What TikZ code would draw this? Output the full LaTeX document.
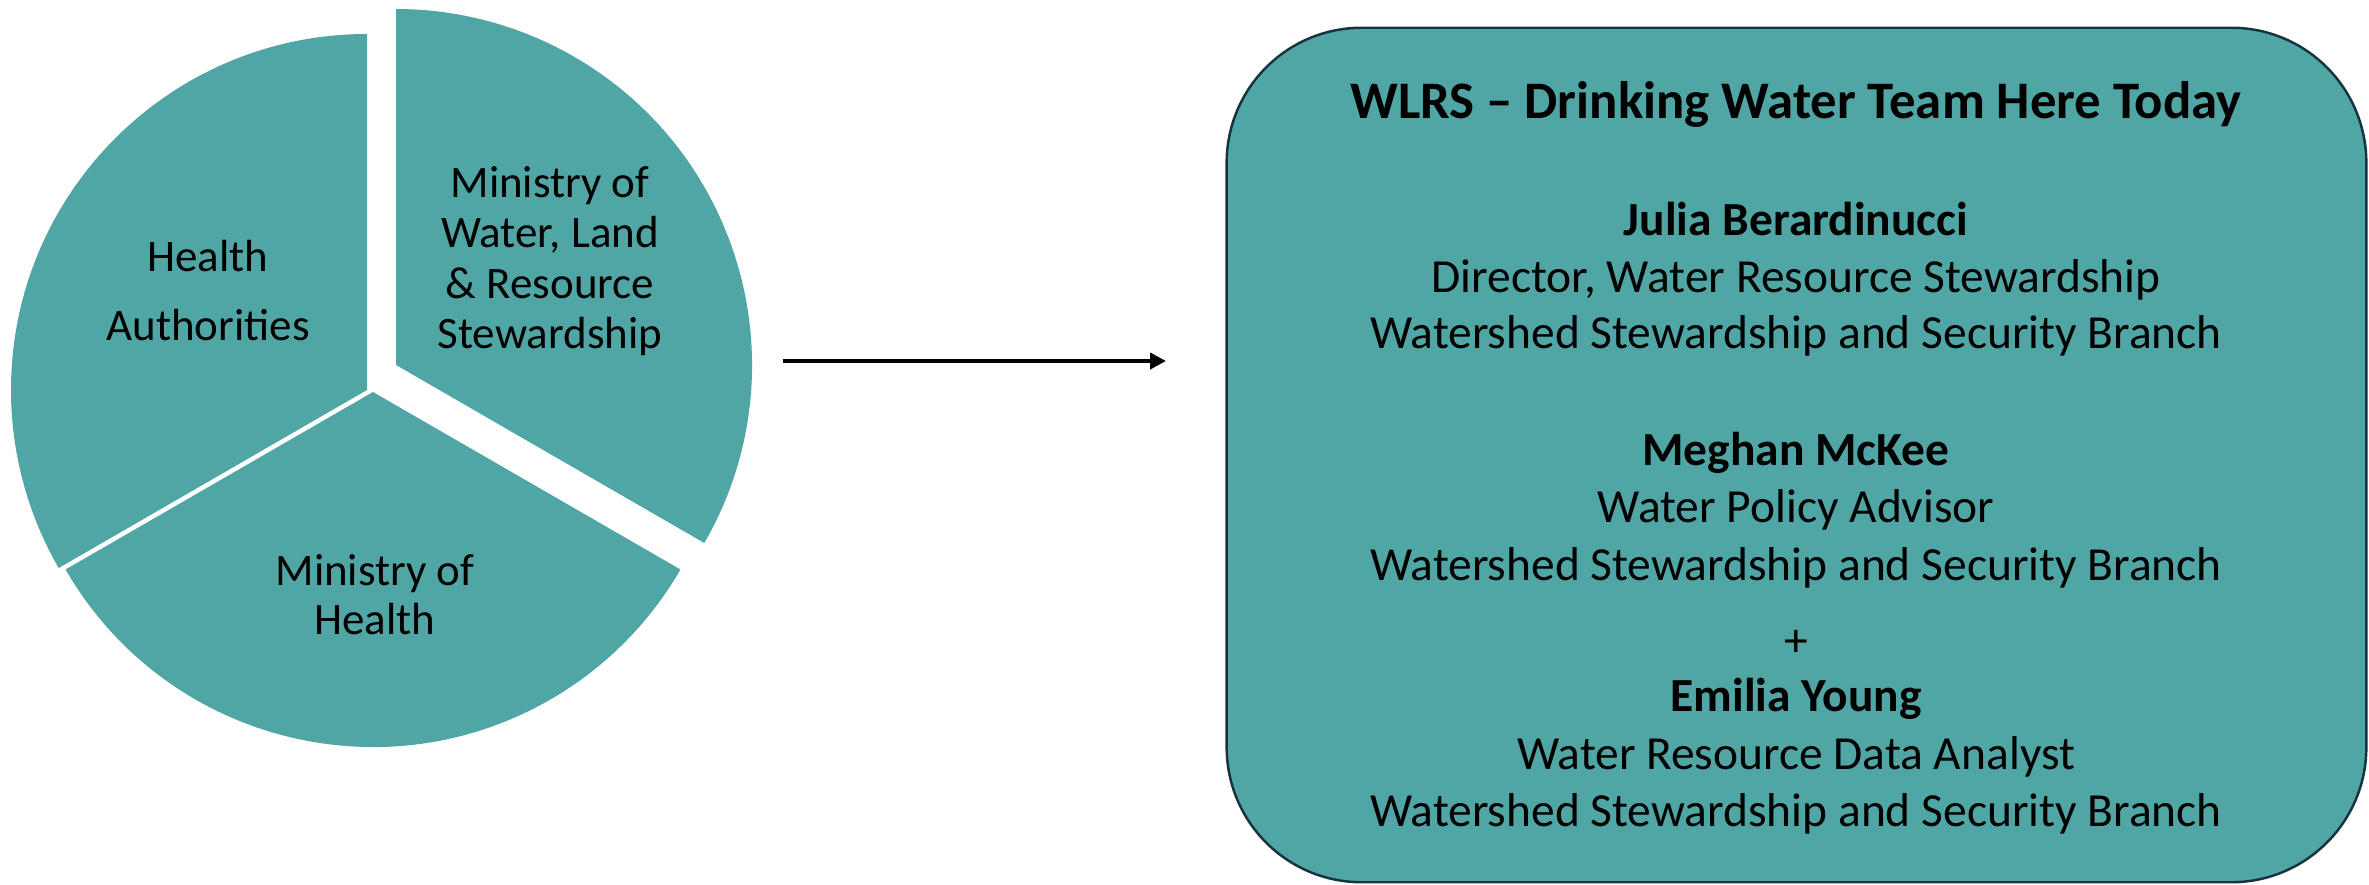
\documentclass[tikz,border=0pt]{standalone}
\usepackage{fontspec}
\setmainfont{Carlito}
\usetikzlibrary{arrows.meta}
\definecolor{teal1}{RGB}{80,166,165}
\definecolor{edge1}{RGB}{22,52,64}
\begin{document}
\begin{tikzpicture}[x=0.01cm,y=0.01cm,
  slice/.style={fill=teal1,draw=none},
  pietext/.style={anchor=base,inner sep=0pt,font=\fontsize{12.8}{15}\selectfont},
  bodytext/.style={anchor=base,inner sep=0pt,font=\fontsize{13.5}{16}\selectfont},
  nametext/.style={anchor=base,inner sep=0pt,font=\fontsize{13.5}{16}\selectfont\bfseries},
  titletext/.style={anchor=base,inner sep=0pt,font=\fontsize{15}{18}\selectfont\bfseries},
  teambox/.style={draw=edge1,line width=0.7pt,fill=teal1,rounded corners=1.35cm,inner sep=0pt},
  flow/.style={line width=1.15pt,-{Triangle[length=0.16cm,width=0.16cm]}}]
\useasboundingbox (0,0) rectangle (2369,884);
% pie slices
\fill[slice] (367,494) -- ++(90:356) arc[start angle=90,end angle=210,radius=356] -- cycle;
\fill[slice] (373,492) -- ++(210:355) arc[start angle=210,end angle=330,radius=355] -- cycle;
\fill[slice] (396,519) -- ++(-30:356) arc[start angle=-30,end angle=90,radius=356] -- cycle;
% pie labels
\node[pietext] (ha1) at (208,612.3) {Health};
\node[pietext] (ha2) at (208,543.5) {Authorities};
\node[pietext] (mw1) at (550,686.4) {Ministry of};
\node[pietext] (mw2) at (550,636.2) {Water, Land};
\node[pietext] (mw3) at (550,585.5) {\& Resource};
\node[pietext] (mw4) at (550,535.2) {Stewardship};
\node[pietext] (mh1) at (375,299) {Ministry of};
\node[pietext] (mh2) at (375,250) {Health};
% arrow
\coordinate (a0) at (783,523);
\coordinate (a1) at (1166,523);
\draw[flow] (a0) -- (a1);
% box
\node[teambox,minimum width=11.39cm,minimum height=8.54cm] (box) at (1796.5,429) {};
\node[titletext] (t0) at (1796,765) {WLRS – Drinking Water Team Here Today};
\node[nametext] (n1) at (1796,649) {Julia Berardinucci};
\node[bodytext] (r1) at (1796,592) {Director, Water Resource Stewardship};
\node[bodytext] (b1) at (1796,535.5) {Watershed Stewardship and Security Branch};
\node[nametext] (n2) at (1796,419) {Meghan McKee};
\node[bodytext] (r2) at (1796,361.5) {Water Policy Advisor};
\node[bodytext] (b2) at (1796,304) {Watershed Stewardship and Security Branch};
\node[bodytext] (plus) at (1796,228) {+};
\node[nametext] (n3) at (1796,172.3) {Emilia Young};
\node[bodytext] (r3) at (1796,115) {Water Resource Data Analyst};
\node[bodytext] (b3) at (1796,57.3) {Watershed Stewardship and Security Branch};
\end{tikzpicture}
\end{document}
